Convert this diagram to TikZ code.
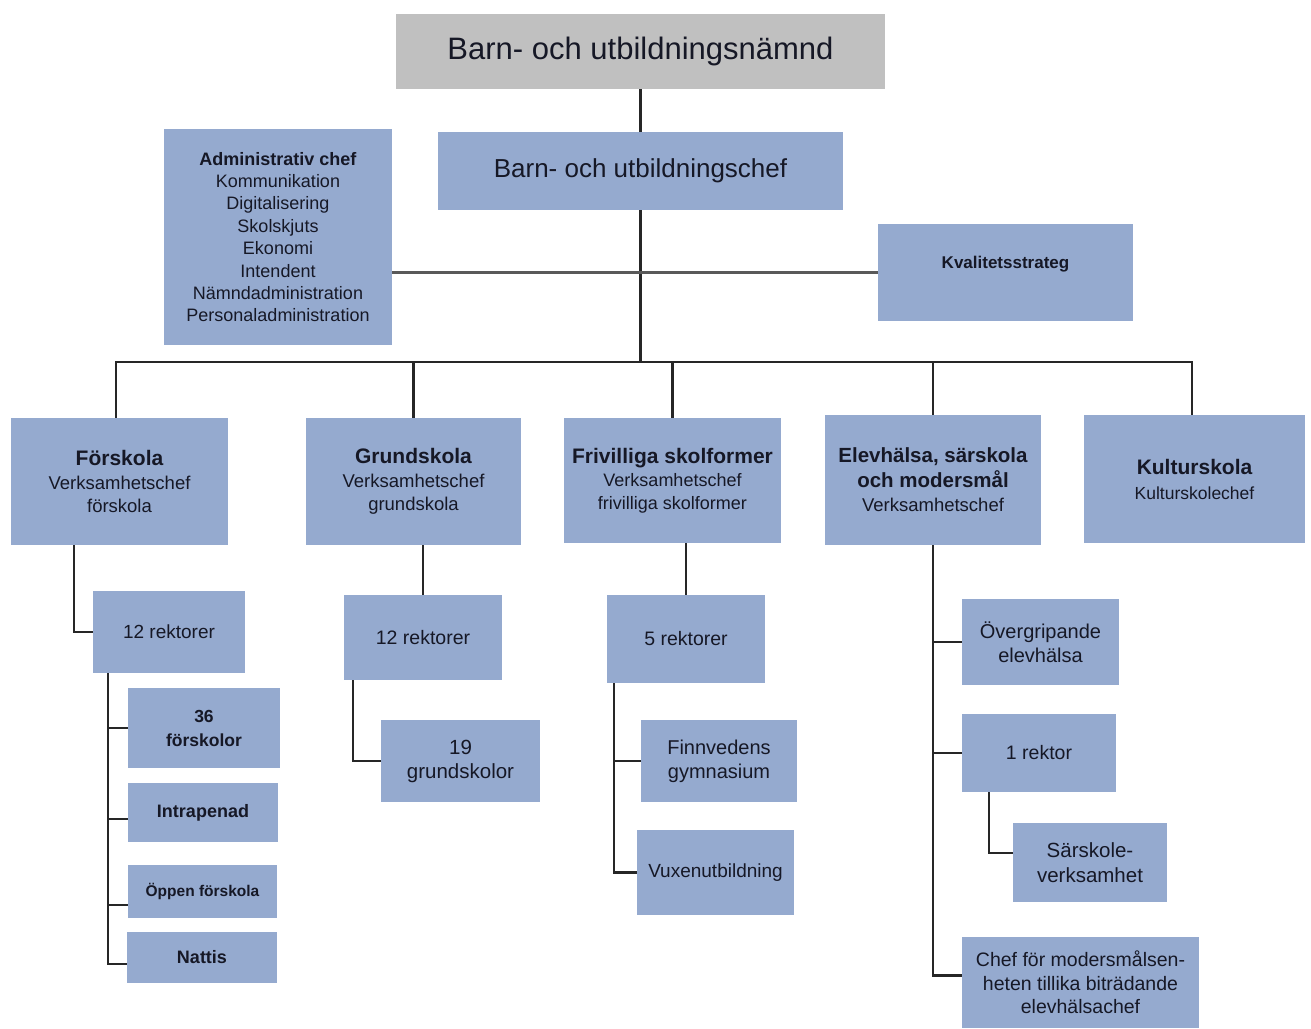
\documentclass[tikz,border=0pt]{standalone}
\usepackage{fontspec}
\setmainfont{Liberation Sans}
\usetikzlibrary{calc}
\definecolor{boxblue}{RGB}{149,170,207}
\definecolor{topgrey}{RGB}{192,192,192}
\definecolor{linec}{RGB}{38,38,38}
\definecolor{txt}{RGB}{22,24,38}
\tikzset{
  orgbox/.style={fill=boxblue, draw=none, inner sep=0pt, align=center, text=txt},
  conn/.style={draw=linec, line width=2.2pt},
}
\newcommand{\fs}[2]{\fontsize{#1}{#2}\selectfont}
\begin{document}
\begin{tikzpicture}[x=1pt,y=-1pt]
\useasboundingbox (0,0) rectangle (1311,1028);
\fill[white] (0,0) rectangle (1311,1028);

% level 0/1
\node[orgbox, fill=topgrey, minimum width=489pt, minimum height=75pt, font=\fs{31}{36}] (top) at (640.5,51.5) {Barn- och utbildningsnämnd};
\node[orgbox, minimum width=405pt, minimum height=78pt, font=\fs{26}{30}] (chef) at (640.5,171) {Barn- och utbildningschef};
\node[orgbox, minimum width=228pt, minimum height=216pt, font=\fs{18}{22.4}] (admin) at (278,237)
  {\textbf{Administrativ chef}\\Kommunikation\\Digitalisering\\Skolskjuts\\Ekonomi\\Intendent\\Nämndadministration\\Personaladministration};
\node[orgbox, minimum width=255pt, minimum height=97pt, font=\fs{17}{20}] (kval) at (1005.5,272.5) {\raisebox{20pt}{\textbf{Kvalitetsstrateg}}};

% level 2
\node[orgbox, minimum width=217pt, minimum height=127pt, font=\fs{18.5}{23.5}] (forsk) at (119.5,481.5)
  {{\bfseries\fs{21}{23.5}Förskola}\\Verksamhetschef\\förskola};
\node[orgbox, minimum width=215pt, minimum height=127pt, font=\fs{18.5}{23.5}] (grund) at (413.5,481.5)
  {{\bfseries\fs{21}{23.5}Grundskola}\\Verksamhetschef\\grundskola};
\node[orgbox, minimum width=217pt, minimum height=125pt, font=\fs{18}{23}] (friv) at (672.5,480.5)
  {{\bfseries\fs{21}{23}Frivilliga skolformer}\\Verksamhetschef\\frivilliga skolformer};
\node[orgbox, minimum width=216pt, minimum height=130pt, font=\fs{18.5}{24.5}] (elev) at (933,480)
  {{\bfseries\fs{20.5}{24.5}Elevhälsa, särskola}\\{\bfseries\fs{20.5}{24.5}och modersmål}\\Verksamhetschef};
\node[orgbox, minimum width=221pt, minimum height=128pt, font=\fs{17.5}{25}] (kult) at (1194.5,479)
  {{\bfseries\fs{21}{25}Kulturskola}\\Kulturskolechef};

% level 3 - förskola
\node[orgbox, minimum width=152pt, minimum height=82pt, font=\fs{19}{23}] (rekt1) at (169,632) {12 rektorer};
\node[orgbox, minimum width=152pt, minimum height=80pt, font=\bfseries\fs{17.5}{24}] (f36) at (204,728) {36\\förskolor};
\node[orgbox, minimum width=150pt, minimum height=59pt, font=\bfseries\fs{18}{22}] (intra) at (203,812.5) {Intrapenad};
\node[orgbox, minimum width=149pt, minimum height=53pt, font=\bfseries\fs{15.5}{19}] (oppen) at (202.5,891.5) {Öppen förskola};
\node[orgbox, minimum width=150pt, minimum height=51pt, font=\bfseries\fs{18}{22}] (nattis) at (202,957.5) {Nattis};

% grundskola
\node[orgbox, minimum width=158pt, minimum height=85pt, font=\fs{19.5}{23}] (rekt2) at (423,637.5) {12 rektorer};
\node[orgbox, minimum width=159pt, minimum height=82pt, font=\fs{20.5}{24}] (g19) at (460.5,761) {19\\grundskolor};

% frivilliga
\node[orgbox, minimum width=158pt, minimum height=88pt, font=\fs{19.5}{23}] (rekt3) at (686,639) {5 rektorer};
\node[orgbox, minimum width=156pt, minimum height=82pt, font=\fs{20}{24}] (finn) at (719,761) {Finnvedens\\gymnasium};
\node[orgbox, minimum width=157pt, minimum height=85pt, font=\fs{19}{23}] (vux) at (715.5,872.5) {Vuxenutbildning};

% elevhälsa
\node[orgbox, minimum width=157pt, minimum height=86pt, font=\fs{20}{23.5}] (overg) at (1040.5,642) {Övergripande\\elevhälsa};
\node[orgbox, minimum width=154pt, minimum height=78pt, font=\fs{19.5}{23}] (rektor1) at (1039,753) {1 rektor};
\node[orgbox, minimum width=154pt, minimum height=79pt, font=\fs{20.5}{25}] (sarsk) at (1090,862.5) {Särskole-\\verksamhet};
\node[orgbox, minimum width=237pt, minimum height=91pt, font=\fs{19.5}{23.5}] (chefmod) at (1080.5,982.5) {Chef för modersmålsen-\\heten tillika biträdande\\elevhälsachef};

% connectors top
\coordinate (bus) at (640.5,362);
\coordinate (fn) at ([xshift=-3.5pt]forsk.north);
\coordinate (kn) at ([xshift=-2.5pt]kult.north);
\draw[conn] (top.south) -- (chef.north);
\draw[conn] (chef.south) -- (bus);
\draw[conn, draw=black!65, line width=3pt] (admin.east |- kval.west) -- (kval.west);
\draw[conn] (fn) |- (bus) -| (kn);
\foreach \b in {grund,friv,elev} { \draw[conn] (bus -| \b.north) -- (\b.north); }

% förskola branch
\draw[conn] ([xshift=-45.5pt]forsk.south) |- (rekt1.west);
\coordinate (r1s) at ([xshift=15pt]rekt1.south west);
\coordinate (iw) at ([yshift=-6.5pt]intra.west);
\coordinate (ow) at ([yshift=-13.5pt]oppen.west);
\coordinate (nw) at ([yshift=-6.5pt]nattis.west);
\draw[conn] (r1s) |- (nw);
\draw[conn] (r1s |- f36.west) -- (f36.west);
\draw[conn] (r1s |- iw) -- (iw);
\draw[conn] (r1s |- ow) -- (ow);

% grundskola branch
\draw[conn] (rekt2.north |- grund.south) -- (rekt2.north);
\draw[conn] ([xshift=9pt]rekt2.south west) |- (g19.west);

% frivilliga branch
\draw[conn] (rekt3.north |- friv.south) -- (rekt3.north);
\coordinate (r3s) at ([xshift=7pt]rekt3.south west);
\draw[conn] (r3s) |- (vux.west);
\draw[conn] (r3s |- finn.west) -- (finn.west);

% elevhälsa branch
\coordinate (cw) at ([yshift=7pt]chefmod.west);
\draw[conn] (elev.south) |- (cw);
\draw[conn] (elev.south |- overg.west) -- (overg.west);
\draw[conn] (elev.south |- rektor1.west) -- (rektor1.west);
\draw[conn] ([xshift=27pt]rektor1.south west) |- ([yshift=9.5pt]sarsk.west);
\end{tikzpicture}
\end{document}
